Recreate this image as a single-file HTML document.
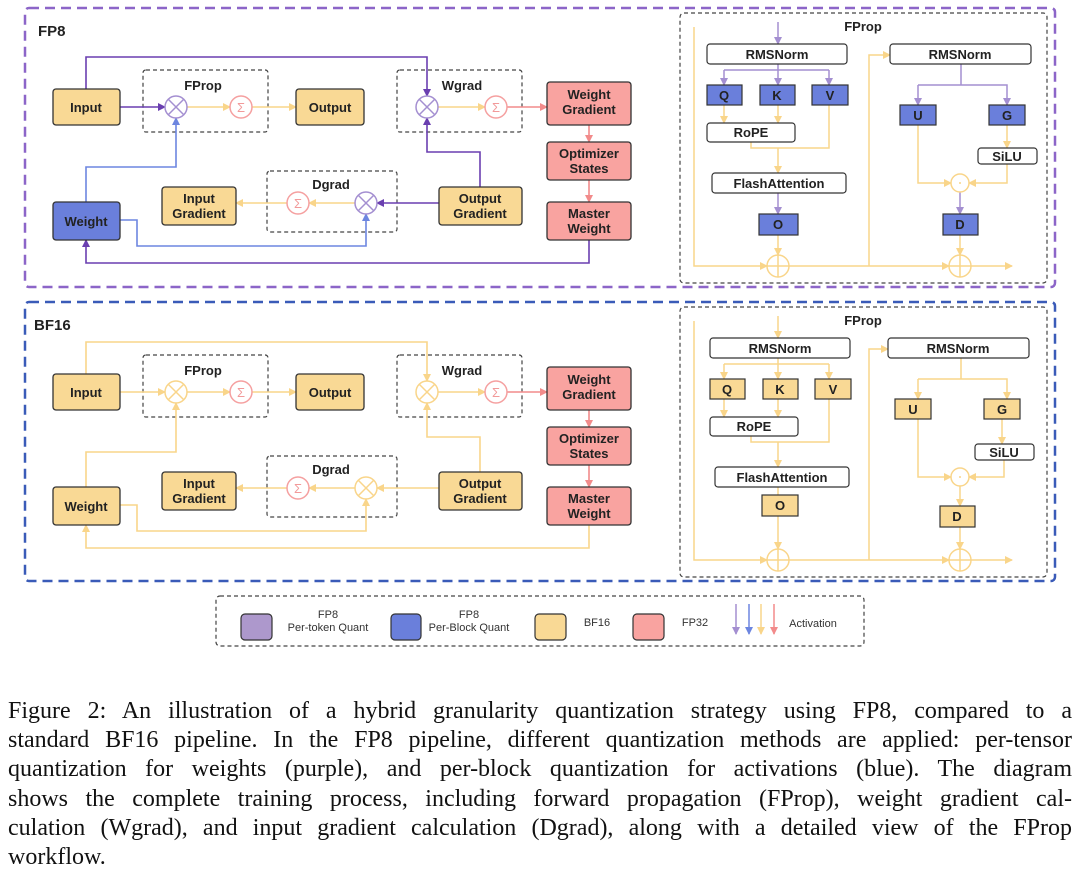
<!DOCTYPE html>
<html><head><meta charset="utf-8"><style>
body{margin:0;width:1080px;height:870px;background:#fff;overflow:hidden;position:relative}
svg{position:absolute;left:0;top:0}
svg text{font-family:"Liberation Sans",sans-serif}
.b{font-weight:bold;font-size:13px;fill:#222;text-anchor:middle}
.cap{position:absolute;left:8px;top:697px;width:1064px;font-family:"Liberation Serif",serif;font-size:24px;line-height:29.2px;color:#111}
.cap span{display:block;text-align:justify;text-align-last:justify;white-space:nowrap}
.cap span.l{text-align-last:left}
</style></head><body>
<svg width="1080" height="870" viewBox="0 0 1080 870">
<defs>
<marker id="mp" markerWidth="8" markerHeight="8" refX="7" refY="4" orient="auto" markerUnits="userSpaceOnUse"><path d="M0,0L8,4L0,8z" fill="#6a3fb0"/></marker>
<marker id="ml" markerWidth="8" markerHeight="8" refX="7" refY="4" orient="auto" markerUnits="userSpaceOnUse"><path d="M0,0L8,4L0,8z" fill="#a48fd1"/></marker>
<marker id="mb" markerWidth="8" markerHeight="8" refX="7" refY="4" orient="auto" markerUnits="userSpaceOnUse"><path d="M0,0L8,4L0,8z" fill="#6d86e0"/></marker>
<marker id="my" markerWidth="8" markerHeight="8" refX="7" refY="4" orient="auto" markerUnits="userSpaceOnUse"><path d="M0,0L8,4L0,8z" fill="#f9d58a"/></marker>
<marker id="mr" markerWidth="8" markerHeight="8" refX="7" refY="4" orient="auto" markerUnits="userSpaceOnUse"><path d="M0,0L8,4L0,8z" fill="#f28b8b"/></marker>
</defs>

<rect x="25" y="8" width="1030" height="279" rx="4" fill="none" stroke="#8c65c8" stroke-width="2.5" stroke-dasharray="10 6"/>
<rect x="25" y="302" width="1030" height="279" rx="4" fill="none" stroke="#3a5bb8" stroke-width="2.5" stroke-dasharray="10 6"/>
<text x="38" y="36" font-weight="bold" font-size="15" fill="#222">FP8</text>
<text x="34" y="330" font-weight="bold" font-size="15" fill="#222">BF16</text>

<g fill="none" stroke="#444" stroke-width="1.2" stroke-dasharray="4 3">
<rect x="143" y="70" width="125" height="62" rx="3"/>
<rect x="397" y="70" width="125" height="62" rx="3"/>
<rect x="267" y="171" width="130" height="61" rx="3"/>
<rect x="680" y="13" width="367" height="270" rx="4"/>
</g>
<text class="b" x="203" y="90" font-size="15">FProp</text>
<text class="b" x="462" y="90" font-size="15">Wgrad</text>
<text class="b" x="331" y="189" font-size="15">Dgrad</text>
<g fill="none" stroke-width="1.6">
<path d="M86,89V57H427V96" stroke="#6a3fb0" marker-end="url(#mp)"/>
<path d="M120,107H165" stroke="#6a3fb0" marker-end="url(#mp)"/>
<path d="M187,107H230" stroke="#f9d58a" marker-end="url(#my)"/>
<path d="M252,107H296" stroke="#f9d58a" marker-end="url(#my)"/>
<path d="M438,107H485" stroke="#f9d58a" marker-end="url(#my)"/>
<path d="M507,107H547" stroke="#f28b8b" marker-end="url(#mr)"/>
<path d="M589,125V142" stroke="#f28b8b" marker-end="url(#mr)"/>
<path d="M589,180V202" stroke="#f28b8b" marker-end="url(#mr)"/>
<path d="M86,202V167H176V118" stroke="#6d86e0" marker-end="url(#mb)"/>
<path d="M120,220H137V246H366V214" stroke="#6d86e0" marker-end="url(#mb)"/>
<path d="M589,240V263H86V240" stroke="#6a3fb0" marker-end="url(#mp)"/>
<path d="M480,187V152H427V118" stroke="#6a3fb0" marker-end="url(#mp)"/>
<path d="M439,203H377" stroke="#6a3fb0" marker-end="url(#mp)"/>
<path d="M355,203H309" stroke="#f9d58a" marker-end="url(#my)"/>
<path d="M287,203H236" stroke="#f9d58a" marker-end="url(#my)"/>
</g>
<g stroke-width="1.5" fill="#fff">
<circle cx="176" cy="107" r="11" stroke="#a48fd1"/><path d="M168,99L184,115M184,99L168,115" stroke="#a48fd1"/>
<circle cx="427" cy="107" r="11" stroke="#a48fd1"/><path d="M419,99L435,115M435,99L419,115" stroke="#a48fd1"/>
<circle cx="366" cy="203" r="11" stroke="#a48fd1"/><path d="M358,195L374,211M374,195L358,211" stroke="#a48fd1"/>
<circle cx="241" cy="107" r="11" stroke="#f5a0a0"/>
<circle cx="496" cy="107" r="11" stroke="#f5a0a0"/>
<circle cx="298" cy="203" r="11" stroke="#f5a0a0"/>
</g>
<g fill="#f29a9a" font-size="13" text-anchor="middle"><text x="241" y="112">Σ</text><text x="496" y="112">Σ</text><text x="298" y="208">Σ</text></g>
<g stroke="#333" stroke-width="1.3">
<rect x="53" y="89" width="67" height="36" rx="3" fill="#f9d995"/>
<rect x="296" y="89" width="68" height="36" rx="3" fill="#f9d995"/>
<rect x="162" y="187" width="74" height="38" rx="3" fill="#f9d995"/>
<rect x="439" y="187" width="83" height="38" rx="3" fill="#f9d995"/>
<rect x="53" y="202" width="67" height="38" rx="3" fill="#6a7fdb"/>
<rect x="547" y="82" width="84" height="43" rx="3" fill="#f9a3a0"/>
<rect x="547" y="142" width="84" height="38" rx="3" fill="#f9a3a0"/>
<rect x="547" y="202" width="84" height="38" rx="3" fill="#f9a3a0"/>
</g>
<text class="b" x="86" y="112">Input</text>
<text class="b" x="330" y="112">Output</text>
<text class="b" x="199" y="203">Input</text><text class="b" x="199" y="218">Gradient</text>
<text class="b" x="480" y="203">Output</text><text class="b" x="480" y="218">Gradient</text>
<text class="b" x="86" y="226">Weight</text>
<text class="b" x="589" y="99">Weight</text><text class="b" x="589" y="114">Gradient</text>
<text class="b" x="589" y="158">Optimizer</text><text class="b" x="589" y="173">States</text>
<text class="b" x="589" y="218">Master</text><text class="b" x="589" y="233">Weight</text>

<text class="b" x="863" y="31" font-size="14">FProp</text>
<g fill="none" stroke-width="1.5">
<path d="M694,27V266H767" stroke="#f9d58a" marker-end="url(#my)"/>
<path d="M778,22V44" stroke="#a48fd1" marker-end="url(#ml)"/>
<path d="M778,64V70M724,70H829" stroke="#a48fd1"/>
<path d="M724,70V85" stroke="#a48fd1" marker-end="url(#ml)"/><path d="M778,70V85" stroke="#a48fd1" marker-end="url(#ml)"/><path d="M829,70V85" stroke="#a48fd1" marker-end="url(#ml)"/>
<path d="M724,105V123" stroke="#f9d58a" marker-end="url(#my)"/><path d="M778,105V123" stroke="#f9d58a" marker-end="url(#my)"/>
<path d="M751,142V148H829V105" stroke="#f9d58a"/>
<path d="M778,148V173" stroke="#f9d58a" marker-end="url(#my)"/>
<path d="M778,193V214" stroke="#a48fd1" marker-end="url(#ml)"/>
<path d="M778,235V255" stroke="#f9d58a" marker-end="url(#my)"/>
<path d="M789,266H949" stroke="#f9d58a" marker-end="url(#my)"/>
<path d="M971,266H1012" stroke="#f9d58a" marker-end="url(#my)"/>
<path d="M869,266V55H890" stroke="#f9d58a" marker-end="url(#my)"/>
<path d="M961,64V85H918M961,85H1007V105" stroke="#a48fd1" marker-end="url(#ml)"/>
<path d="M918,85V105" stroke="#a48fd1" marker-end="url(#ml)"/>
<path d="M1007,125V148" stroke="#f9d58a" marker-end="url(#my)"/>
<path d="M918,125V183H951" stroke="#f9d58a" marker-end="url(#my)"/>
<path d="M1007,164V183H969" stroke="#f9d58a" marker-end="url(#my)"/>
<path d="M960,192V214" stroke="#a48fd1" marker-end="url(#ml)"/>
<path d="M960,235V255" stroke="#f9d58a" marker-end="url(#my)"/>
</g>
<g fill="#fff" stroke="#f9d58a" stroke-width="1.5">
<circle cx="778" cy="266" r="11"/><path d="M767,266H789M778,255V277"/>
<circle cx="960" cy="266" r="11"/><path d="M949,266H971M960,255V277"/>
<circle cx="960" cy="183" r="9"/>
</g>
<circle cx="960" cy="183" r="1" fill="#f9d58a"/>
<g stroke="#333" stroke-width="1.2">
<rect x="707" y="44" width="140" height="20" rx="3" fill="#fff"/>
<rect x="890" y="44" width="141" height="20" rx="3" fill="#fff"/>
<rect x="707" y="85" width="35" height="20" fill="#6a7fdb"/>
<rect x="760" y="85" width="35" height="20" fill="#6a7fdb"/>
<rect x="812" y="85" width="36" height="20" fill="#6a7fdb"/>
<rect x="707" y="123" width="88" height="19" rx="3" fill="#fff"/>
<rect x="712" y="173" width="134" height="20" rx="3" fill="#fff"/>
<rect x="759" y="214" width="39" height="21" fill="#6a7fdb"/>
<rect x="900" y="105" width="36" height="20" fill="#6a7fdb"/>
<rect x="989" y="105" width="36" height="20" fill="#6a7fdb"/>
<rect x="978" y="148" width="59" height="16" rx="3" fill="#fff"/>
<rect x="943" y="214" width="35" height="21" fill="#6a7fdb"/>
</g>
<text class="b" x="777" y="59">RMSNorm</text><text class="b" x="960" y="59">RMSNorm</text>
<text class="b" x="724" y="100">Q</text><text class="b" x="777" y="100">K</text><text class="b" x="830" y="100">V</text>
<text class="b" x="751" y="137">RoPE</text><text class="b" x="779" y="188">FlashAttention</text>
<text class="b" x="778" y="229">O</text><text class="b" x="918" y="120">U</text><text class="b" x="1007" y="120">G</text>
<text class="b" x="1007" y="161">SiLU</text><text class="b" x="960" y="229">D</text>

<g transform="translate(0,285)">
<g fill="none" stroke="#444" stroke-width="1.2" stroke-dasharray="4 3">
<rect x="143" y="70" width="125" height="62" rx="3"/>
<rect x="397" y="70" width="125" height="62" rx="3"/>
<rect x="267" y="171" width="130" height="61" rx="3"/>
</g>
<text class="b" x="203" y="90" font-size="15">FProp</text>
<text class="b" x="462" y="90" font-size="15">Wgrad</text>
<text class="b" x="331" y="189" font-size="15">Dgrad</text>
<g fill="none" stroke-width="1.6" stroke="#f9d58a">
<path d="M86,89V57H427V96" marker-end="url(#my)"/>
<path d="M120,107H165" marker-end="url(#my)"/>
<path d="M187,107H230" marker-end="url(#my)"/>
<path d="M252,107H296" marker-end="url(#my)"/>
<path d="M438,107H485" marker-end="url(#my)"/>
<path d="M507,107H547" stroke="#f28b8b" marker-end="url(#mr)"/>
<path d="M589,125V142" stroke="#f28b8b" marker-end="url(#mr)"/>
<path d="M589,180V202" stroke="#f28b8b" marker-end="url(#mr)"/>
<path d="M86,202V167H176V118" marker-end="url(#my)"/>
<path d="M120,220H137V246H366V214" marker-end="url(#my)"/>
<path d="M589,240V263H86V240" marker-end="url(#my)"/>
<path d="M480,187V152H427V118" marker-end="url(#my)"/>
<path d="M439,203H377" marker-end="url(#my)"/>
<path d="M355,203H309" marker-end="url(#my)"/>
<path d="M287,203H236" marker-end="url(#my)"/>
</g>
<g stroke-width="1.5" fill="#fff">
<circle cx="176" cy="107" r="11" stroke="#f9d58a"/><path d="M168,99L184,115M184,99L168,115" stroke="#f9d58a"/>
<circle cx="427" cy="107" r="11" stroke="#f9d58a"/><path d="M419,99L435,115M435,99L419,115" stroke="#f9d58a"/>
<circle cx="366" cy="203" r="11" stroke="#f9d58a"/><path d="M358,195L374,211M374,195L358,211" stroke="#f9d58a"/>
<circle cx="241" cy="107" r="11" stroke="#f5a0a0"/>
<circle cx="496" cy="107" r="11" stroke="#f5a0a0"/>
<circle cx="298" cy="203" r="11" stroke="#f5a0a0"/>
</g>
<g fill="#f29a9a" font-size="13" text-anchor="middle"><text x="241" y="112">Σ</text><text x="496" y="112">Σ</text><text x="298" y="208">Σ</text></g>
<g stroke="#333" stroke-width="1.3">
<rect x="53" y="89" width="67" height="36" rx="3" fill="#f9d995"/>
<rect x="296" y="89" width="68" height="36" rx="3" fill="#f9d995"/>
<rect x="162" y="187" width="74" height="38" rx="3" fill="#f9d995"/>
<rect x="439" y="187" width="83" height="38" rx="3" fill="#f9d995"/>
<rect x="53" y="202" width="67" height="38" rx="3" fill="#f9d995"/>
<rect x="547" y="82" width="84" height="43" rx="3" fill="#f9a3a0"/>
<rect x="547" y="142" width="84" height="38" rx="3" fill="#f9a3a0"/>
<rect x="547" y="202" width="84" height="38" rx="3" fill="#f9a3a0"/>
</g>
<text class="b" x="86" y="112">Input</text>
<text class="b" x="330" y="112">Output</text>
<text class="b" x="199" y="203">Input</text><text class="b" x="199" y="218">Gradient</text>
<text class="b" x="480" y="203">Output</text><text class="b" x="480" y="218">Gradient</text>
<text class="b" x="86" y="226">Weight</text>
<text class="b" x="589" y="99">Weight</text><text class="b" x="589" y="114">Gradient</text>
<text class="b" x="589" y="158">Optimizer</text><text class="b" x="589" y="173">States</text>
<text class="b" x="589" y="218">Master</text><text class="b" x="589" y="233">Weight</text>
</g>

<g transform="translate(0,294)">
<rect x="680" y="13" width="367" height="270" rx="4" fill="none" stroke="#444" stroke-width="1.2" stroke-dasharray="4 3"/>
<text class="b" x="863" y="31" font-size="14">FProp</text>
<g fill="none" stroke-width="1.5" stroke="#f9d58a">
<path d="M694,27V266H767" marker-end="url(#my)"/>
<path d="M778,22V44" marker-end="url(#my)"/>
<path d="M778,64V70M724,70H829"/>
<path d="M724,70V85" marker-end="url(#my)"/><path d="M778,70V85" marker-end="url(#my)"/><path d="M829,70V85" marker-end="url(#my)"/>
<path d="M724,105V123" marker-end="url(#my)"/><path d="M778,105V123" marker-end="url(#my)"/>
<path d="M751,142V148H829V105"/>
<path d="M778,148V173" marker-end="url(#my)"/>
<path d="M778,193V201"/>
<path d="M778,222V255" marker-end="url(#my)"/>
<path d="M789,266H949" marker-end="url(#my)"/>
<path d="M971,266H1012" marker-end="url(#my)"/>
<path d="M869,266V55H888" marker-end="url(#my)"/>
<path d="M961,64V85H918M961,85H1007V105" marker-end="url(#my)"/>
<path d="M918,85V105" marker-end="url(#my)"/>
<path d="M1002,125V150" marker-end="url(#my)"/>
<path d="M918,125V183H951" marker-end="url(#my)"/>
<path d="M1004,166V183H969" marker-end="url(#my)"/>
<path d="M960,192V212" marker-end="url(#my)"/>
<path d="M960,233V255" marker-end="url(#my)"/>
</g>
<g fill="#fff" stroke="#f9d58a" stroke-width="1.5">
<circle cx="778" cy="266" r="11"/><path d="M767,266H789M778,255V277"/>
<circle cx="960" cy="266" r="11"/><path d="M949,266H971M960,255V277"/>
<circle cx="960" cy="183" r="9"/>
</g>
<circle cx="960" cy="183" r="1" fill="#f9d58a"/>
<g stroke="#333" stroke-width="1.2">
<rect x="710" y="44" width="140" height="20" rx="3" fill="#fff"/>
<rect x="888" y="44" width="141" height="20" rx="3" fill="#fff"/>
<rect x="710" y="85" width="35" height="20" fill="#f9d995"/>
<rect x="763" y="85" width="35" height="20" fill="#f9d995"/>
<rect x="815" y="85" width="36" height="20" fill="#f9d995"/>
<rect x="710" y="123" width="88" height="19" rx="3" fill="#fff"/>
<rect x="715" y="173" width="134" height="20" rx="3" fill="#fff"/>
<rect x="762" y="201" width="36" height="21" fill="#f9d995"/>
<rect x="895" y="105" width="36" height="20" fill="#f9d995"/>
<rect x="984" y="105" width="36" height="20" fill="#f9d995"/>
<rect x="975" y="150" width="59" height="16" rx="3" fill="#fff"/>
<rect x="940" y="212" width="35" height="21" fill="#f9d995"/>
</g>
<text class="b" x="780" y="59">RMSNorm</text><text class="b" x="958" y="59">RMSNorm</text>
<text class="b" x="727" y="100">Q</text><text class="b" x="780" y="100">K</text><text class="b" x="833" y="100">V</text>
<text class="b" x="754" y="137">RoPE</text><text class="b" x="782" y="188">FlashAttention</text>
<text class="b" x="780" y="216">O</text><text class="b" x="913" y="120">U</text><text class="b" x="1002" y="120">G</text>
<text class="b" x="1004" y="163">SiLU</text><text class="b" x="957" y="227">D</text>
</g>

<rect x="216" y="596" width="648" height="50" rx="4" fill="none" stroke="#444" stroke-width="1.2" stroke-dasharray="4 3"/>
<g stroke="#333" stroke-width="1.2">
<rect x="241" y="614" width="31" height="26" rx="4" fill="#ad98cc"/>
<rect x="391" y="614" width="30" height="26" rx="4" fill="#6a7fdb"/>
<rect x="535" y="614" width="31" height="26" rx="4" fill="#f9d995"/>
<rect x="633" y="614" width="31" height="26" rx="4" fill="#f9a3a0"/>
</g>
<g font-size="11" fill="#333" text-anchor="middle">
<text x="328" y="618">FP8</text><text x="328" y="631">Per-token Quant</text>
<text x="469" y="618">FP8</text><text x="469" y="631">Per-Block Quant</text>
<text x="597" y="626">BF16</text><text x="695" y="626">FP32</text>
<text x="813" y="627">Activation</text>
</g>
<g stroke-width="1.5">
<path d="M736,604V634" stroke="#a48fd1" marker-end="url(#ml)"/>
<path d="M749,604V634" stroke="#6d86e0" marker-end="url(#mb)"/>
<path d="M761,604V634" stroke="#f9d58a" marker-end="url(#my)"/>
<path d="M774,604V634" stroke="#f28b8b" marker-end="url(#mr)"/>
</g>
</svg>
<div class="cap">
<span>Figure 2: An illustration of a hybrid granularity quantization strategy using FP8, compared to a</span>
<span>standard BF16 pipeline. In the FP8 pipeline, different quantization methods are applied: per-tensor</span>
<span>quantization for weights (purple), and per-block quantization for activations (blue). The diagram</span>
<span>shows the complete training process, including forward propagation (FProp), weight gradient cal-</span>
<span>culation (Wgrad), and input gradient calculation (Dgrad), along with a detailed view of the FProp</span>
<span class="l">workflow.</span>
</div>
</body></html>
